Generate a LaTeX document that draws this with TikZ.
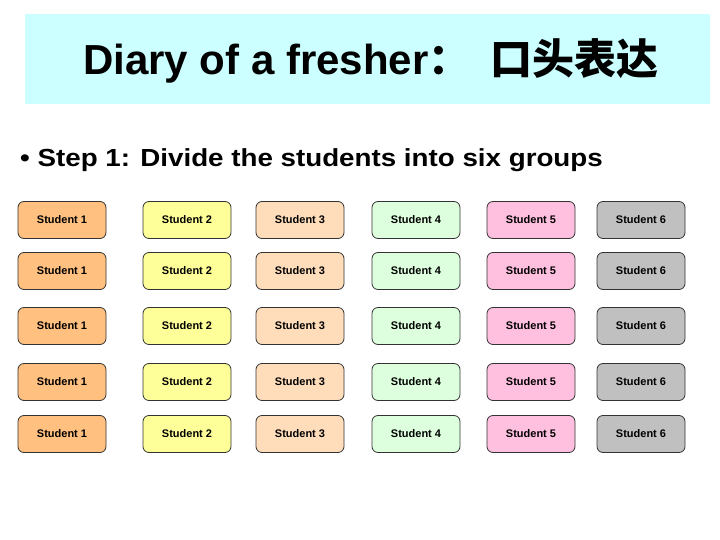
\documentclass[tikz,border=0pt]{standalone}
\usepackage{fontspec}
\setmainfont{Liberation Sans}
\newfontfamily\cjk{Noto Sans CJK SC}
\definecolor{titlebg}{HTML}{CCFFFF}
\definecolor{cA}{HTML}{FFC080}
\definecolor{cB}{HTML}{FFFF99}
\definecolor{cC}{HTML}{FFDDBB}
\definecolor{cD}{HTML}{DDFFDD}
\definecolor{cE}{HTML}{FFBFDF}
\definecolor{cF}{HTML}{C0C0C0}
\tikzset{
  stud/.style={draw=black!80, line width=0.8pt, rounded corners=6pt, minimum width=88pt, minimum height=37pt, font=\fontsize{11}{13}\selectfont\bfseries, inner sep=0pt},
}
\begin{document}
\begin{tikzpicture}[x=1pt,y=-1pt]
\useasboundingbox (0,0) rectangle (720,540);
\fill[white] (0,0) rectangle (720,540);
\node[fill=titlebg, minimum width=685pt, minimum height=90pt, inner sep=0pt] (title) at (367.5,59) {};
\node[anchor=base west, inner sep=0pt, font=\fontsize{42}{46}\selectfont\bfseries] (titletext) at (83,75) {Diary of a fresher{\cjk ：\hspace{20pt}口头表达}};
\node[anchor=base west, font=\fontsize{26}{30}\selectfont\bfseries, xscale=1.067, yscale=0.95, inner sep=0pt] (step) at (20,167) {• Step 1: Divide the students into six groups};
\foreach \y [count=\r] in {220,271,326,382,434}{
  \foreach \x/\c [count=\k] in {62/cA,187/cB,300/cC,416/cD,531/cE,641/cF}{
    \node[stud, fill=\c] (s\r\k) at (\x,\y) {Student \k};
  }
}
\end{tikzpicture}
\end{document}
